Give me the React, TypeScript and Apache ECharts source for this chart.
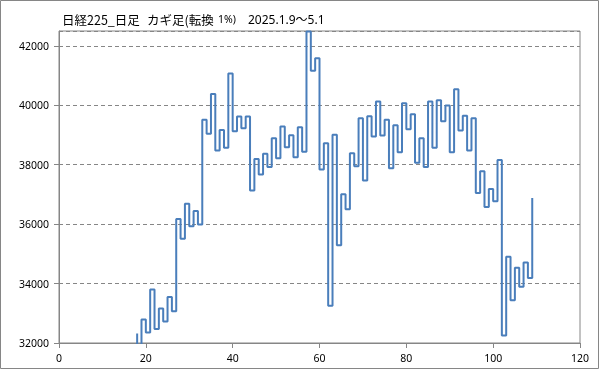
import React, { useEffect, useRef } from "react";
import * as echarts from "echarts";

// Kagi chart (1% reversal): x index of the first vertical stroke, its opening value,
// and the value at the end of each vertical stroke (one stroke per x index).
const xStart = 18;
const openValue = 32320;
const turnValues = [
  31700, 32790, 32350, 33800, 32470, 33160, 32720, 33550, 33070, 36170,
  35510, 36690, 35930, 36440, 35990, 39510, 39040, 40380, 38480, 39170,
  38570, 41070, 39130, 39620, 39230, 39620, 37130, 38190, 37670, 38370,
  37920, 38890, 38220, 39290, 38590, 38990, 38250, 39260, 38440, 42480,
  41160, 41580, 37840, 38720, 33250, 39010, 35290, 37010, 36500, 38390,
  37950, 39560, 37470, 39630, 38950, 40130, 38980, 39510, 37880, 39330,
  38420, 40070, 39190, 39700, 38070, 38890, 37920, 40130, 38570, 40170,
  39460, 39990, 38420, 40540, 39150, 39650, 38480, 39560, 37050, 37780,
  36580, 37180, 36770, 38160, 32250, 34900, 33440, 34530, 33890, 34710,
  34190, 36880,
];

const xTicks = { min: 0, max: 120, interval: 20 };
const yTicks = { min: 32000, max: 42500, interval: 2000 };

const titleName = "日経225_日足";
const titleKind = "カギ足(転換";
const titleRate = "1%)";
const titlePeriod = "2025.1.9〜5.1";

export default function App() {
  const ref = useRef<HTMLDivElement>(null);
  useEffect(() => {
    if (!ref.current) return;
    const chart = echarts.init(ref.current, undefined, { renderer: "svg" });
    const pts: number[][] = [[xStart, openValue]];
    let prev = openValue;
    turnValues.forEach((v, i) => {
      const x = xStart + i;
      if (i > 0) pts.push([x, prev]);
      pts.push([x, v]);
      prev = v;
    });
    const gray = "#868686";
    const font = "'Noto Sans CJK JP', 'Noto Sans', sans-serif";
    const latin = "'Noto Sans', 'Noto Sans CJK JP', sans-serif";
    const t = (text: string, x: number, size: number, family: string) => ({
      type: "text",
      x,
      y: 19,
      silent: true,
      style: { text, fontSize: size, fontFamily: family, fill: "#000", verticalAlign: "middle" },
    });
    chart.setOption({
      animation: false,
      grid: {
        left: 59,
        right: 19,
        top: 31,
        bottom: 26,
        show: true,
        borderColor: gray,
        borderWidth: 1,
      },
      graphic: [
        {
          type: "rect",
          shape: { x: 0.5, y: 0.5, width: 598, height: 368 },
          style: { fill: "none", stroke: gray, lineWidth: 1 },
          silent: true,
        },
        t(titleName, 62, 12.5, font),
        t(titleKind, 147, 12.5, font),
        t(titleRate, 218, 10.5, latin),
        t(titlePeriod, 248, 12, latin),
      ],
      xAxis: {
        type: "value",
        min: xTicks.min,
        max: xTicks.max,
        interval: xTicks.interval,
        axisLine: { show: true, lineStyle: { color: gray, width: 1 } },
        axisTick: { show: true, length: 5, lineStyle: { color: gray } },
        axisLabel: {
          color: "#000",
          fontSize: 10.5,
          fontFamily: latin,
          margin: 10,
          formatter: (v: number) => String(v),
        },
        splitLine: { show: false },
      },
      yAxis: {
        type: "value",
        min: yTicks.min,
        max: yTicks.max,
        interval: yTicks.interval,
        axisLine: { show: true, lineStyle: { color: gray, width: 1 } },
        axisTick: { show: true, length: 5, lineStyle: { color: gray } },
        axisLabel: {
          color: "#000",
          fontSize: 10.5,
          fontFamily: latin,
          margin: 10,
          showMaxLabel: false,
          formatter: (v: number) => String(v),
        },
        splitLine: {
          show: true,
          lineStyle: { color: gray, type: [4, 3], width: 1 },
        },
      },
      series: [
        {
          type: "line",
          data: pts,
          showSymbol: false,
          clip: true,
          lineStyle: { color: "#4a7ebb", width: 2 },
          itemStyle: { color: "#4a7ebb" },
        },
      ],
    });
    return () => chart.dispose();
  }, []);
  return (
    <div
      ref={ref}
      style={{ position: "fixed", left: 0, top: 0, width: 599, height: 369 }}
    />
  );
}
